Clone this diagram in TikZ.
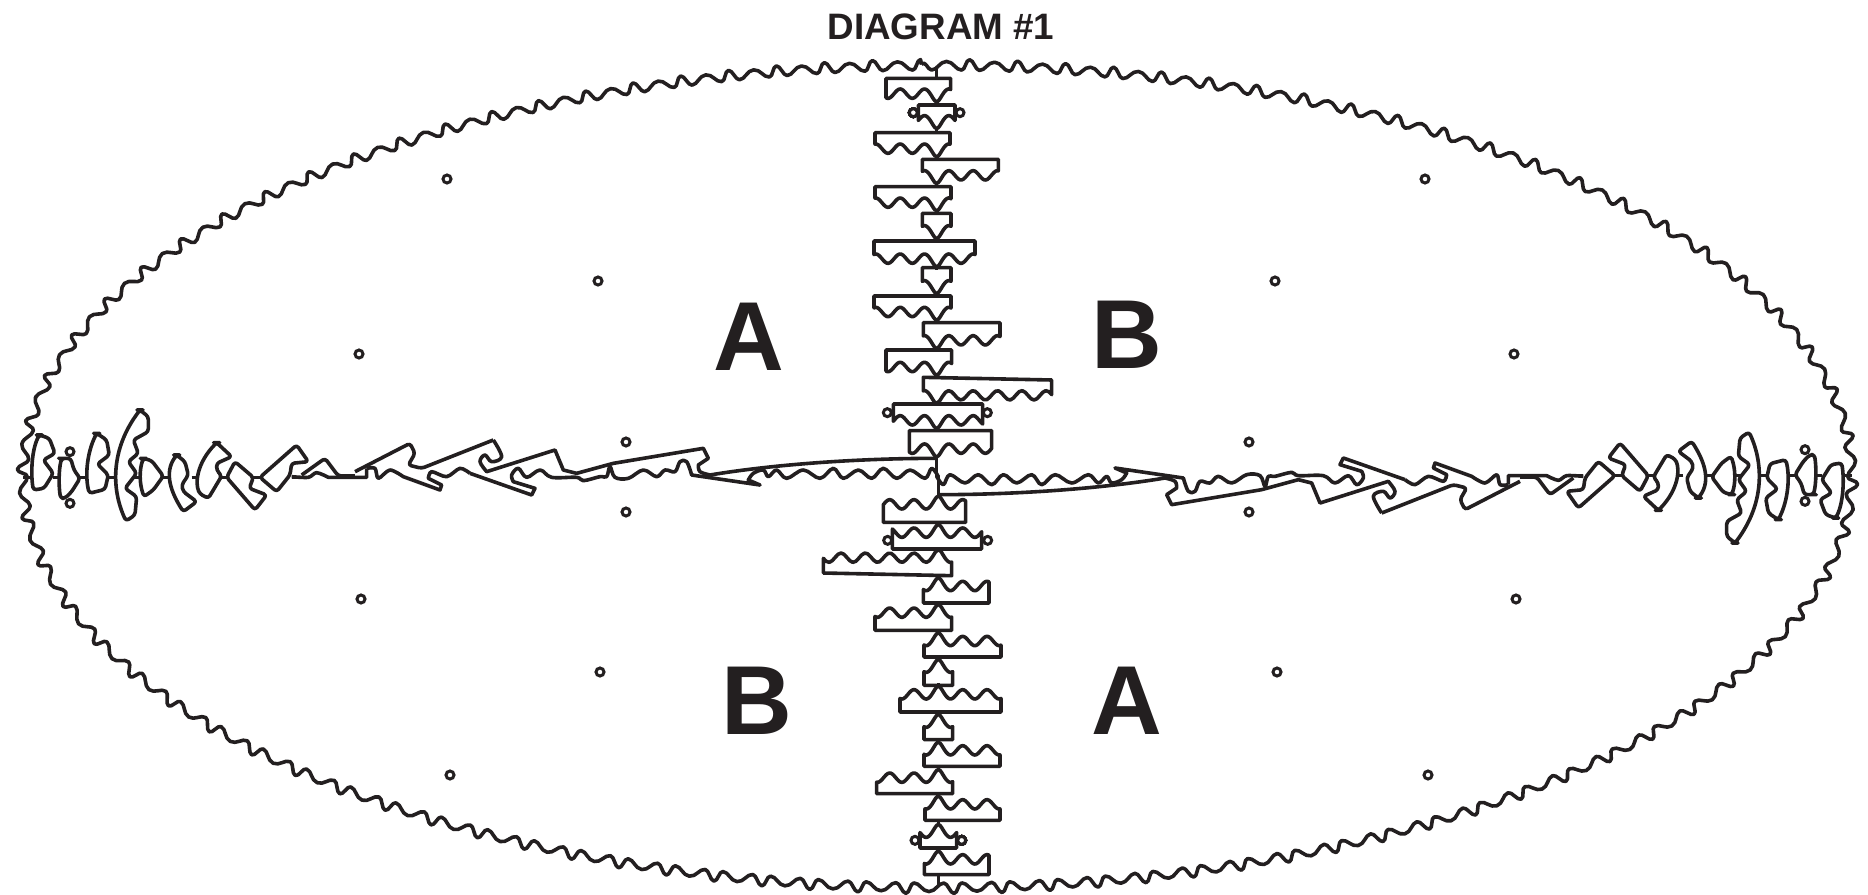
\documentclass[tikz,border=0pt]{standalone}
\usepackage{fontspec}
\setmainfont{Liberation Sans}
\usetikzlibrary{decorations}
\definecolor{ink}{HTML}{231F20}

\pgfdeclaredecoration{rimwave}{fallnarrow}{
	\state{fallnarrow}[width=\pgfdecoratedpathlength/432.1,next state=risewide]{
		\pgfpathcurveto{\pgfpoint{2pt}{2.5pt}}{\pgfpoint{3pt}{-2.75pt}}{\pgfpoint{5pt}{-2.75pt}}
	}
	\state{risewide}[width=\pgfdecoratedpathlength/288.06,next state=fallwide]{
		\pgfpathcurveto{\pgfpoint{3pt}{-2.75pt}}{\pgfpoint{4pt}{1.5pt}}{\pgfpoint{7.5pt}{1.5pt}}
	}
	\state{fallwide}[width=\pgfdecoratedpathlength/288.06,next state=risenarrow]{
		\pgfpathcurveto{\pgfpoint{3.5pt}{1.5pt}}{\pgfpoint{4.5pt}{-2.75pt}}{\pgfpoint{7.5pt}{-2.75pt}}
	}
	\state{risenarrow}[width=\pgfdecoratedpathlength/540.12,next state=fallnarrow]{
		\pgfpathcurveto{\pgfpoint{2pt}{-2.75pt}}{\pgfpoint{2pt}{2.5pt}}{\pgfpoint{4pt}{2.5pt}}
	}
	\state{final}{\pgfpathlineto{\pgfpointdecoratedpathlast}}
}

% one block of the centre column, wave on its lower side
\newcommand{\hangpiece}[5]{
	\draw[part] (410-#1,#3) -- (410+#2,#4)
		-- plot[domain=#2:0,samples=40] ({410+\x},{#5-24+14*cos(\x/73*360)+10*exp(-min(\x/14,3)*min(\x/14,3))})
		-- plot[domain=0:#1,samples=40] ({410-\x},{#5-24+14*cos(\x/73*360)+10*exp(-min(\x/14,3)*min(\x/14,3))})
		-- cycle;
	\draw[part] (410,#5) -- ++(0,9);
}

% column and arm of one half; the other half is the same turned round
\newcommand{\halfdiagram}{
	\begin{scope}[shift={(800,40)},scale=1/3]
		\draw[part] (410,85) -- (410,115);
		\foreach \lft/\rgt/\tl/\tr/\tip in {152/42/115/115/185, 55/55/195/195/265, 185/40/278/278/350,
			43/185/358/358/430, 185/43/440/440/512, 43/43/520/520/595, 188/115/603/603/680,
			43/43/683/683/760, 188/43/768/768/840, 40/190/848/848/925, 152/45/930/930/1005,
			40/345/1012/1020/1090, 130/138/1092/1092/1165, 82/165/1172/1172/1250}
			\hangpiece{\lft}{\rgt}{\tl}{\tr}{\tip}
		\draw[lug] (340,218) circle[radius=12];
		\draw[lug] (480,218) circle[radius=12];
		\draw[lug] (262,1118) circle[radius=12];
		\draw[lug] (562,1118) circle[radius=12];
		\draw[part] (410,1250) -- (410,1310);
	\end{scope}
	\begin{scope}[shift={(0,390)},scale=1/3]
		\foreach \a/\b in {70/97,160/180,240/262,325/345,400/420,490/505,575/590,660/680,760/780,875/905}
			\draw[part] (\a,262) -- (\b,262);
		\draw[seg] (118,135) -- (148,145) -- (165,190) -- (130,210) -- (160,250) -- (132,295) -- (100,300)
			.. controls (92,250) and (95,180) .. cycle;
		\draw[seg] (185,205) -- (212,205) -- (222,240) -- (240,265) -- (215,305) -- (195,325) -- (182,325)
			.. controls (176,290) and (176,240) .. cycle;
		\draw[lug] (210,185) circle[radius=12];
		\draw[lug] (210,340) circle[radius=12];
		\draw[seg] (290,130) -- (320,150) -- (328,195) -- (292,222) -- (325,255) -- (315,298) -- (268,310)
			.. controls (255,260) and (260,190) .. cycle;
		\draw[seg] (420,60) -- (445,80) -- (445,125) -- (400,150) -- (415,190) -- (385,215) -- (410,250)
			-- (375,295) -- (410,320) -- (405,375) -- (378,393) .. controls (335,300) and (330,180) .. cycle;
		\draw[seg] (430,205) -- (455,212) -- (490,258) -- (460,300) -- (432,320)
			.. controls (418,280) and (418,240) .. cycle;
		\draw[seg] (530,195) -- (555,215) -- (565,255) -- (545,285) -- (550,305) -- (590,335) -- (550,365)
			.. controls (515,310) and (490,250) .. cycle;
		\draw[seg] (650,158) -- (695,200) -- (650,220) -- (650,240) -- (665,258) -- (625,325) -- (600,312)
			.. controls (585,280) and (590,220) .. cycle;
		\draw[seg] (705,215) -- (760,262) -- (748,295) -- (800,315) -- (765,360) -- (680,262) -- cycle;
		\draw[seg] (890,165) -- (925,215) -- (875,220) -- (870,255) -- (830,305) -- (780,262) -- cycle;
		\draw[seg] (905,255) -- (975,205) -- (1015,258) -- (1065,258);
		\draw[part] plot[smooth,tension=.5] coordinates {(875,260) (925,262) (950,248) (985,262)} -- (1100,262) -- (1100,235);
		\draw[seg] (1065,245) -- (1230,160) -- (1245,190) -- (1225,225) -- (1265,235) -- (1480,150);
		\draw[part] plot[smooth,tension=.5] coordinates {(1100,235) (1125,235) (1135,265) (1170,240) (1210,260)}
			-- (1320,300) -- (1325,285) -- plot[smooth,tension=.5] coordinates {(1285,265) (1295,245) (1340,260) (1380,235) (1410,250)};
	\end{scope}
	\begin{scope}[shift={(470,420)},scale=1/3]
		\draw[part] plot[smooth,tension=.6] coordinates {(70,60) (95,110) (65,125) (45,105) (30,125) (50,155)}
			-- (255,90) -- (280,150) -- (320,160) -- (430,130) -- (700,85) -- (715,115)
			-- plot[smooth,tension=.6] coordinates {(685,135) (690,155) (720,165)}
			.. controls (900,135) and (1150,115) .. (1400,115);
		\draw[part] (0,160) -- (185,225) -- (195,205)
			-- plot[smooth,tension=.6] coordinates {(130,185) (125,165) (145,145) (170,172) (210,150) (245,172) (320,172) (340,182) (390,170)
				(410,170) (420,140) (435,172) (475,175) (520,150) (560,170) (585,150) (615,155) (630,125) (650,125) (665,165)}
			-- (870,195) -- plot[smooth,tension=.6] coordinates {(835,180) (850,160) (880,150) (895,170) (920,150) (950,175) (1000,150)
				(1050,175) (1090,145) (1120,175) (1165,150) (1205,175) (1240,145) (1280,175) (1320,150) (1365,175) (1385,145) (1405,170)};
	\end{scope}
}

\begin{document}
\begin{tikzpicture}[
		x=.5pt,y=-.5pt,
		part/.style={draw=ink,line width=1.8pt,line join=round},
		seg/.style={part,rounded corners=1.5pt},
		lug/.style={draw=ink,line width=1.5pt,fill=white},
		rim/.style={draw=ink,line width=1.8pt,line join=round,decorate,decoration={rimwave}},
		bigletter/.style={text=ink,inner sep=0pt,font=\fontsize{49}{49}\selectfont\bfseries}
	]
		\useasboundingbox (0,0) rectangle (1868,894);
		\node (title) [text=ink,inner sep=0pt,font=\fontsize{18.4}{20}\selectfont\bfseries] at (941,27) {DIAGRAM \#1};
		\node (upa) [bigletter] at (749,337) {A};
		\node (upb) [bigletter] at (1127,335) {B};
		\node (lowb) [bigletter] at (757,701) {B};
		\node (lowa) [bigletter] at (1127,701) {A};

		\draw[rim] plot[domain=91:-269,samples=361] ({937.5+915*cos(\x)},{476.5-412*sin(\x)});

		\halfdiagram
		\begin{scope}[rotate around={180:(937.5,476.5)}]
			\halfdiagram
		\end{scope}

		\foreach \hx/\hy in {447/179, 598/281, 359/354, 626/442, 626/512, 361/599, 600/672, 450/775,
			1425/179, 1275/281, 1514/354, 1249/442, 1249/512, 1516/599, 1277/672, 1428/775}
			\draw[lug] (\hx,\hy) circle[radius=4];
	\end{tikzpicture}
\end{document}
